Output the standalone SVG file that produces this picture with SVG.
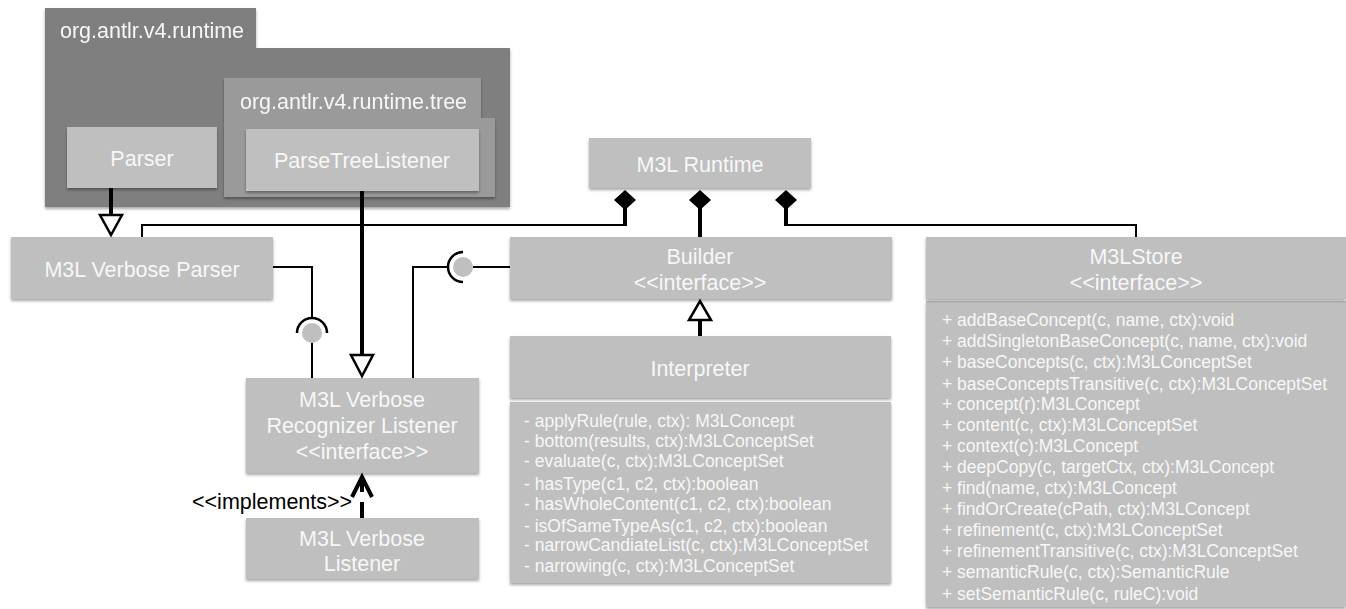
<svg xmlns="http://www.w3.org/2000/svg" width="1346" height="609" viewBox="0 0 1346 609">
<defs>
<filter id="sh" x="-5%" y="-10%" width="110%" height="130%">
<feDropShadow dx="0" dy="2" stdDeviation="1.5" flood-color="#000" flood-opacity="0.35"/>
</filter>
<style>
.box{fill:#bfbfbf;filter:url(#sh)}
.pk1{fill:#7f7f7f}
.pk2{fill:#9a9a9a}
.t{font-family:"Liberation Sans",Arial,sans-serif;font-size:21.5px;fill:#f7f7f7;text-anchor:middle}
.tl{font-family:"Liberation Sans",Arial,sans-serif;font-size:21.5px;fill:#f7f7f7}
.m{font-family:"Liberation Sans",Arial,sans-serif;font-size:17.5px;fill:#f7f7f7}
.lbl{font-family:"Liberation Sans",Arial,sans-serif;font-size:21.5px;fill:#000}
.thin{fill:none;stroke:#000;stroke-width:2}
.thick{fill:none;stroke:#000;stroke-width:4}
.hollow{fill:#fff;stroke:#000;stroke-width:2.5;stroke-linejoin:miter}
.dia{fill:#000}
.ball{fill:#bfbfbf}
.sock{fill:none;stroke:#000;stroke-width:2.5}
</style>
</defs>

<g id="pkg-runtime" filter="url(#sh)">
<path class="pk1" d="M45,8 H256 V48 H510 V207 H45 Z"/>
<text class="tl" x="60" y="38">org.antlr.v4.runtime</text>
</g>
<g id="pkg-tree" filter="url(#sh)">
<path class="pk2" d="M224,78 H481 V118 H495 V197 H224 Z"/>
<text class="tl" x="240" y="109">org.antlr.v4.runtime.tree</text>
</g>

<g id="parser">
<rect class="box" x="67" y="127" width="150" height="61"/>
<text class="t" x="142" y="166">Parser</text>
</g>
<g id="parsetreelistener">
<rect class="box" x="246" y="129" width="233" height="62"/>
<text class="t" x="362" y="168">ParseTreeListener</text>
</g>

<g id="m3l-runtime">
<rect class="box" x="589" y="138" width="222" height="50"/>
<text class="t" x="700" y="172">M3L Runtime</text>
</g>

<g id="m3l-verbose-parser">
<rect class="box" x="11" y="237" width="262" height="62"/>
<text class="t" x="142" y="277">M3L Verbose Parser</text>
</g>

<g id="builder">
<rect class="box" x="510" y="237" width="382" height="62"/>
<text class="t" x="700" y="264">Builder</text>
<text class="t" x="700" y="290">&lt;&lt;interface&gt;&gt;</text>
</g>

<g id="interpreter">
<rect class="box" x="510" y="402" width="381" height="181"/>
<rect class="box" x="510" y="336" width="381" height="62"/>
<text class="t" x="700" y="376">Interpreter</text>
<text class="m" x="524" y="427">- applyRule(rule, ctx): M3LConcept</text>
<text class="m" x="524" y="447">- bottom(results, ctx):M3LConceptSet</text>
<text class="m" x="524" y="467">- evaluate(c, ctx):M3LConceptSet</text>
<text class="m" x="524" y="490">- hasType(c1, c2, ctx):boolean</text>
<text class="m" x="524" y="510">- hasWholeContent(c1, c2, ctx):boolean</text>
<text class="m" x="524" y="532">- isOfSameTypeAs(c1, c2, ctx):boolean</text>
<text class="m" x="524" y="551">- narrowCandiateList(c, ctx):M3LConceptSet</text>
<text class="m" x="524" y="572">- narrowing(c, ctx):M3LConceptSet</text>
</g>

<g id="m3lstore">
<rect class="box" x="926" y="301" width="420" height="306"/>
<rect class="box" x="926" y="237" width="420" height="62"/>
<text class="t" x="1136" y="264">M3LStore</text>
<text class="t" x="1136" y="290">&lt;&lt;interface&gt;&gt;</text>
<text class="m" x="942" y="326">+ addBaseConcept(c, name, ctx):void</text>
<text class="m" x="942" y="347">+ addSingletonBaseConcept(c, name, ctx):void</text>
<text class="m" x="942" y="368">+ baseConcepts(c, ctx):M3LConceptSet</text>
<text class="m" x="942" y="390">+ baseConceptsTransitive(c, ctx):M3LConceptSet</text>
<text class="m" x="942" y="410">+ concept(r):M3LConcept</text>
<text class="m" x="942" y="431">+ content(c, ctx):M3LConceptSet</text>
<text class="m" x="942" y="452">+ context(c):M3LConcept</text>
<text class="m" x="942" y="473">+ deepCopy(c, targetCtx, ctx):M3LConcept</text>
<text class="m" x="942" y="494">+ find(name, ctx):M3LConcept</text>
<text class="m" x="942" y="515">+ findOrCreate(cPath, ctx):M3LConcept</text>
<text class="m" x="942" y="536">+ refinement(c, ctx):M3LConceptSet</text>
<text class="m" x="942" y="557">+ refinementTransitive(c, ctx):M3LConceptSet</text>
<text class="m" x="942" y="578">+ semanticRule(c, ctx):SemanticRule</text>
<text class="m" x="942" y="600">+ setSemanticRule(c, ruleC):void</text>
</g>

<g id="recognizer-listener">
<rect class="box" x="246" y="378" width="233" height="95"/>
<text class="t" x="362" y="407">M3L Verbose</text>
<text class="t" x="362" y="433">Recognizer Listener</text>
<text class="t" x="362" y="459">&lt;&lt;interface&gt;&gt;</text>
</g>

<g id="verbose-listener">
<rect class="box" x="246" y="518" width="233" height="61"/>
<text class="t" x="362" y="546">M3L Verbose</text>
<text class="t" x="362" y="571">Listener</text>
</g>

<g id="connectors">
<!-- composition: runtime to parser -->
<polyline class="thin" points="625,225 142,225 142,237"/>
<line class="thick" x1="625" y1="208" x2="625" y2="226"/>
<polygon class="dia" points="625,190 636,200 625,210 614,200"/>
<!-- composition: runtime to builder -->
<line class="thick" x1="700" y1="208" x2="700" y2="237"/>
<polygon class="dia" points="700,190 711,200 700,210 689,200"/>
<!-- composition: runtime to store -->
<polyline class="thin" points="786,225 1136,225 1136,237"/>
<line class="thick" x1="786" y1="208" x2="786" y2="226"/>
<polygon class="dia" points="786,190 797,200 786,210 775,200"/>

<!-- Parser generalization -->
<line class="thick" x1="111" y1="188" x2="111" y2="216"/>
<polygon class="hollow" points="100,215 122,215 111,235"/>
<!-- ParseTreeListener generalization -->
<line class="thick" x1="362" y1="191" x2="362" y2="356"/>
<polygon class="hollow" points="351,355 373,355 362,376"/>
<!-- Interpreter realizes Builder -->
<line class="thick" x1="700" y1="336" x2="700" y2="318"/>
<polygon class="hollow" points="689,320 711,320 700,301"/>

<!-- Parser requires Listener (socket/ball) -->
<polyline class="thin" points="273,267 312,267 312,317"/>
<line class="thin" x1="312" y1="342" x2="312" y2="378"/>
<circle class="ball" cx="312" cy="333" r="10"/>
<path class="sock" d="M297,333 A15,15 0 0 1 327,333"/>

<!-- Listener requires Builder -->
<polyline class="thin" points="413,378 413,267 448,267"/>
<line class="thin" x1="473" y1="267" x2="510" y2="267"/>
<circle class="ball" cx="463" cy="267" r="10"/>
<path class="sock" d="M463,252 A15,15 0 0 0 463,282"/>

<!-- implements -->
<line x1="362" y1="518" x2="362" y2="478" stroke="#000" stroke-width="4" stroke-dasharray="16 10"/>
<polyline points="352,497 362,477 372,497" fill="none" stroke="#000" stroke-width="4"/>
<text class="lbl" x="192" y="509">&lt;&lt;implements&gt;&gt;</text>
</g>
</svg>
